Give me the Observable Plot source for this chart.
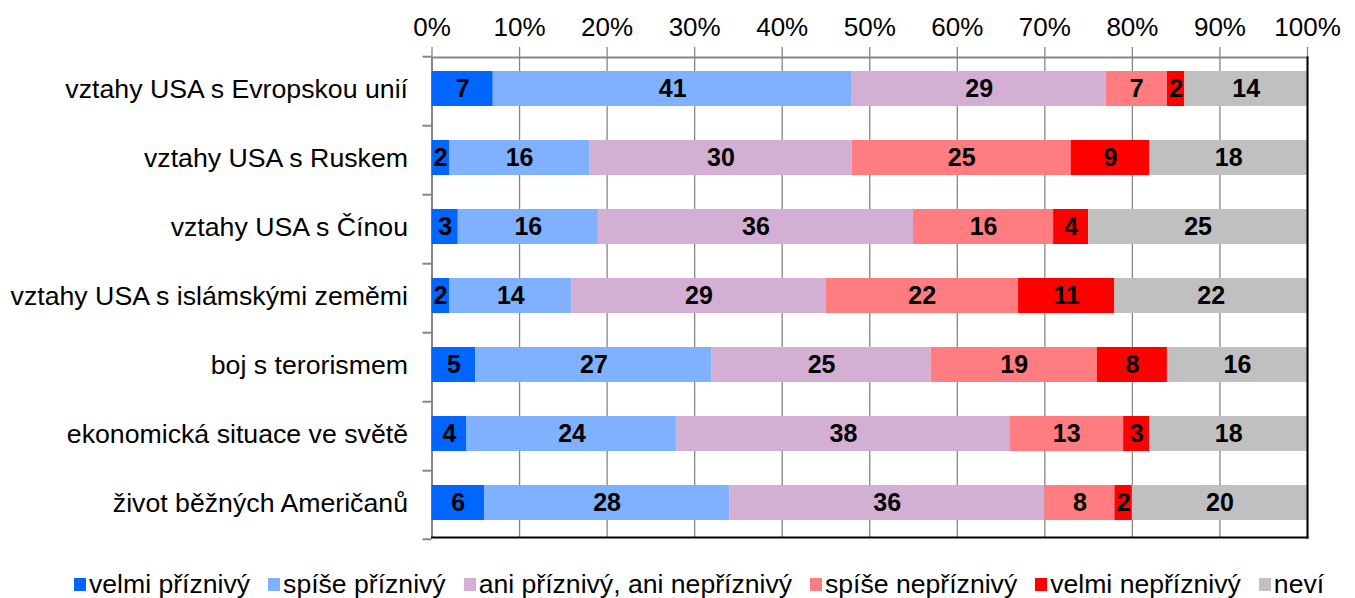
<!DOCTYPE html>
<html><head><meta charset="utf-8">
<script src="https://cdn.jsdelivr.net/npm/d3@7"></script>
<script src="https://cdn.jsdelivr.net/npm/@observablehq/plot@0.6"></script>
<style>
html,body{margin:0;padding:0;background:#fff;overflow:hidden;}
body{font-family:"Liberation Sans",Arial,sans-serif;}
#legend{display:flex;align-items:center;box-sizing:border-box;height:42px;padding-top:14px;padding-left:74px;font-size:26.6px;color:#000;line-height:30px;}
.item{display:flex;align-items:center;margin-right:18px;white-space:nowrap;}
.sw{width:12px;height:13px;margin-right:3px;}
</style></head><body><div id="chart"></div><div id="legend"></div>
<script>
const categories = [
  "vztahy USA s Evropskou unií",
  "vztahy USA s Ruskem",
  "vztahy USA s Čínou",
  "vztahy USA s islámskými zeměmi",
  "boj s terorismem",
  "ekonomická situace ve světě",
  "život běžných Američanů"
];
const series = ["velmi příznivý", "spíše příznivý", "ani příznivý, ani nepříznivý", "spíše nepříznivý", "velmi nepříznivý", "neví"];
const colors = ["#0066FF", "#80B1FF", "#D3AFD3", "#FF7C80", "#FF0000", "#C0C0C0"];
const values = [
  [7, 41, 29, 7, 2, 14],
  [2, 16, 30, 25, 9, 18],
  [3, 16, 36, 16, 4, 25],
  [2, 14, 29, 22, 11, 22],
  [5, 27, 25, 19, 8, 16],
  [4, 24, 38, 13, 3, 18],
  [6, 28, 36, 8, 2, 20]
];
const xTicks = [0, 10, 20, 30, 40, 50, 60, 70, 80, 90, 100];

const data = categories.flatMap((c, i) => series.map((s, j) => ({category: c, series: s, value: values[i][j]})));

const W = 1355, H = 556, mL = 431.5, mR = 48, mT = 57, mB = 19;
const step = (H - mT - mB) / (categories.length);
const grid = "#868686";

const chart = Plot.plot({
  width: W, height: H,
  marginLeft: mL, marginRight: mR, marginTop: mT, marginBottom: mB,
  style: {fontFamily: "'Liberation Sans', Arial, sans-serif", fontSize: "26px", color: "#000", background: "#fff"},
  x: {domain: [0, 100], axis: null, label: null},
  y: {domain: categories, paddingInner: 0.5, paddingOuter: 0.22, axis: null, label: null},
  color: {domain: series, range: colors},
  marks: [
    Plot.ruleX(xTicks, {stroke: grid, strokeWidth: 1.3, insetTop: -10}),
    Plot.ruleX([0], {stroke: grid, strokeWidth: 2}),
    Plot.frame({anchor: "top", stroke: grid, strokeWidth: 2}),
    Plot.ruleY(categories, {y: d => d, x1: 0, x2: 0, insetLeft: -9, dy: -step / 2, stroke: grid, strokeWidth: 2}),
    Plot.ruleY([categories[categories.length - 1]], {y: d => d, x1: 0, x2: 0, insetLeft: -9, dy: step / 2, stroke: grid, strokeWidth: 2}),
    Plot.barX(data, Plot.stackX({x: "value", y: "category", fill: "series", order: null, dy: -2})),
    Plot.text(data, Plot.stackX({x: "value", y: "category", z: "series", order: null, text: d => String(d.value), fontWeight: "bold", fontSize: 25, fill: "#000", dy: -2})),
    Plot.frame({anchor: "right", stroke: "#000", strokeWidth: 2}),
    Plot.frame({anchor: "bottom", stroke: "#000", strokeWidth: 2}),
    Plot.axisX(xTicks, {anchor: "top", tickSize: 0, tickPadding: 22, tickFormat: d => d + "%", fontSize: 26, label: null}),
    Plot.axisY({anchor: "left", tickSize: 0, tickPadding: 24, fontSize: 26.7, label: null, dy: -2})
  ]
});
document.getElementById("chart").appendChild(chart);

const legend = document.getElementById("legend");
series.forEach((s, i) => {
  const item = document.createElement("div");
  item.className = "item";
  const sw = document.createElement("span");
  sw.className = "sw";
  sw.style.background = colors[i];
  const t = document.createElement("span");
  t.textContent = s;
  item.appendChild(sw);
  item.appendChild(t);
  legend.appendChild(item);
});
</script>
</body></html>
